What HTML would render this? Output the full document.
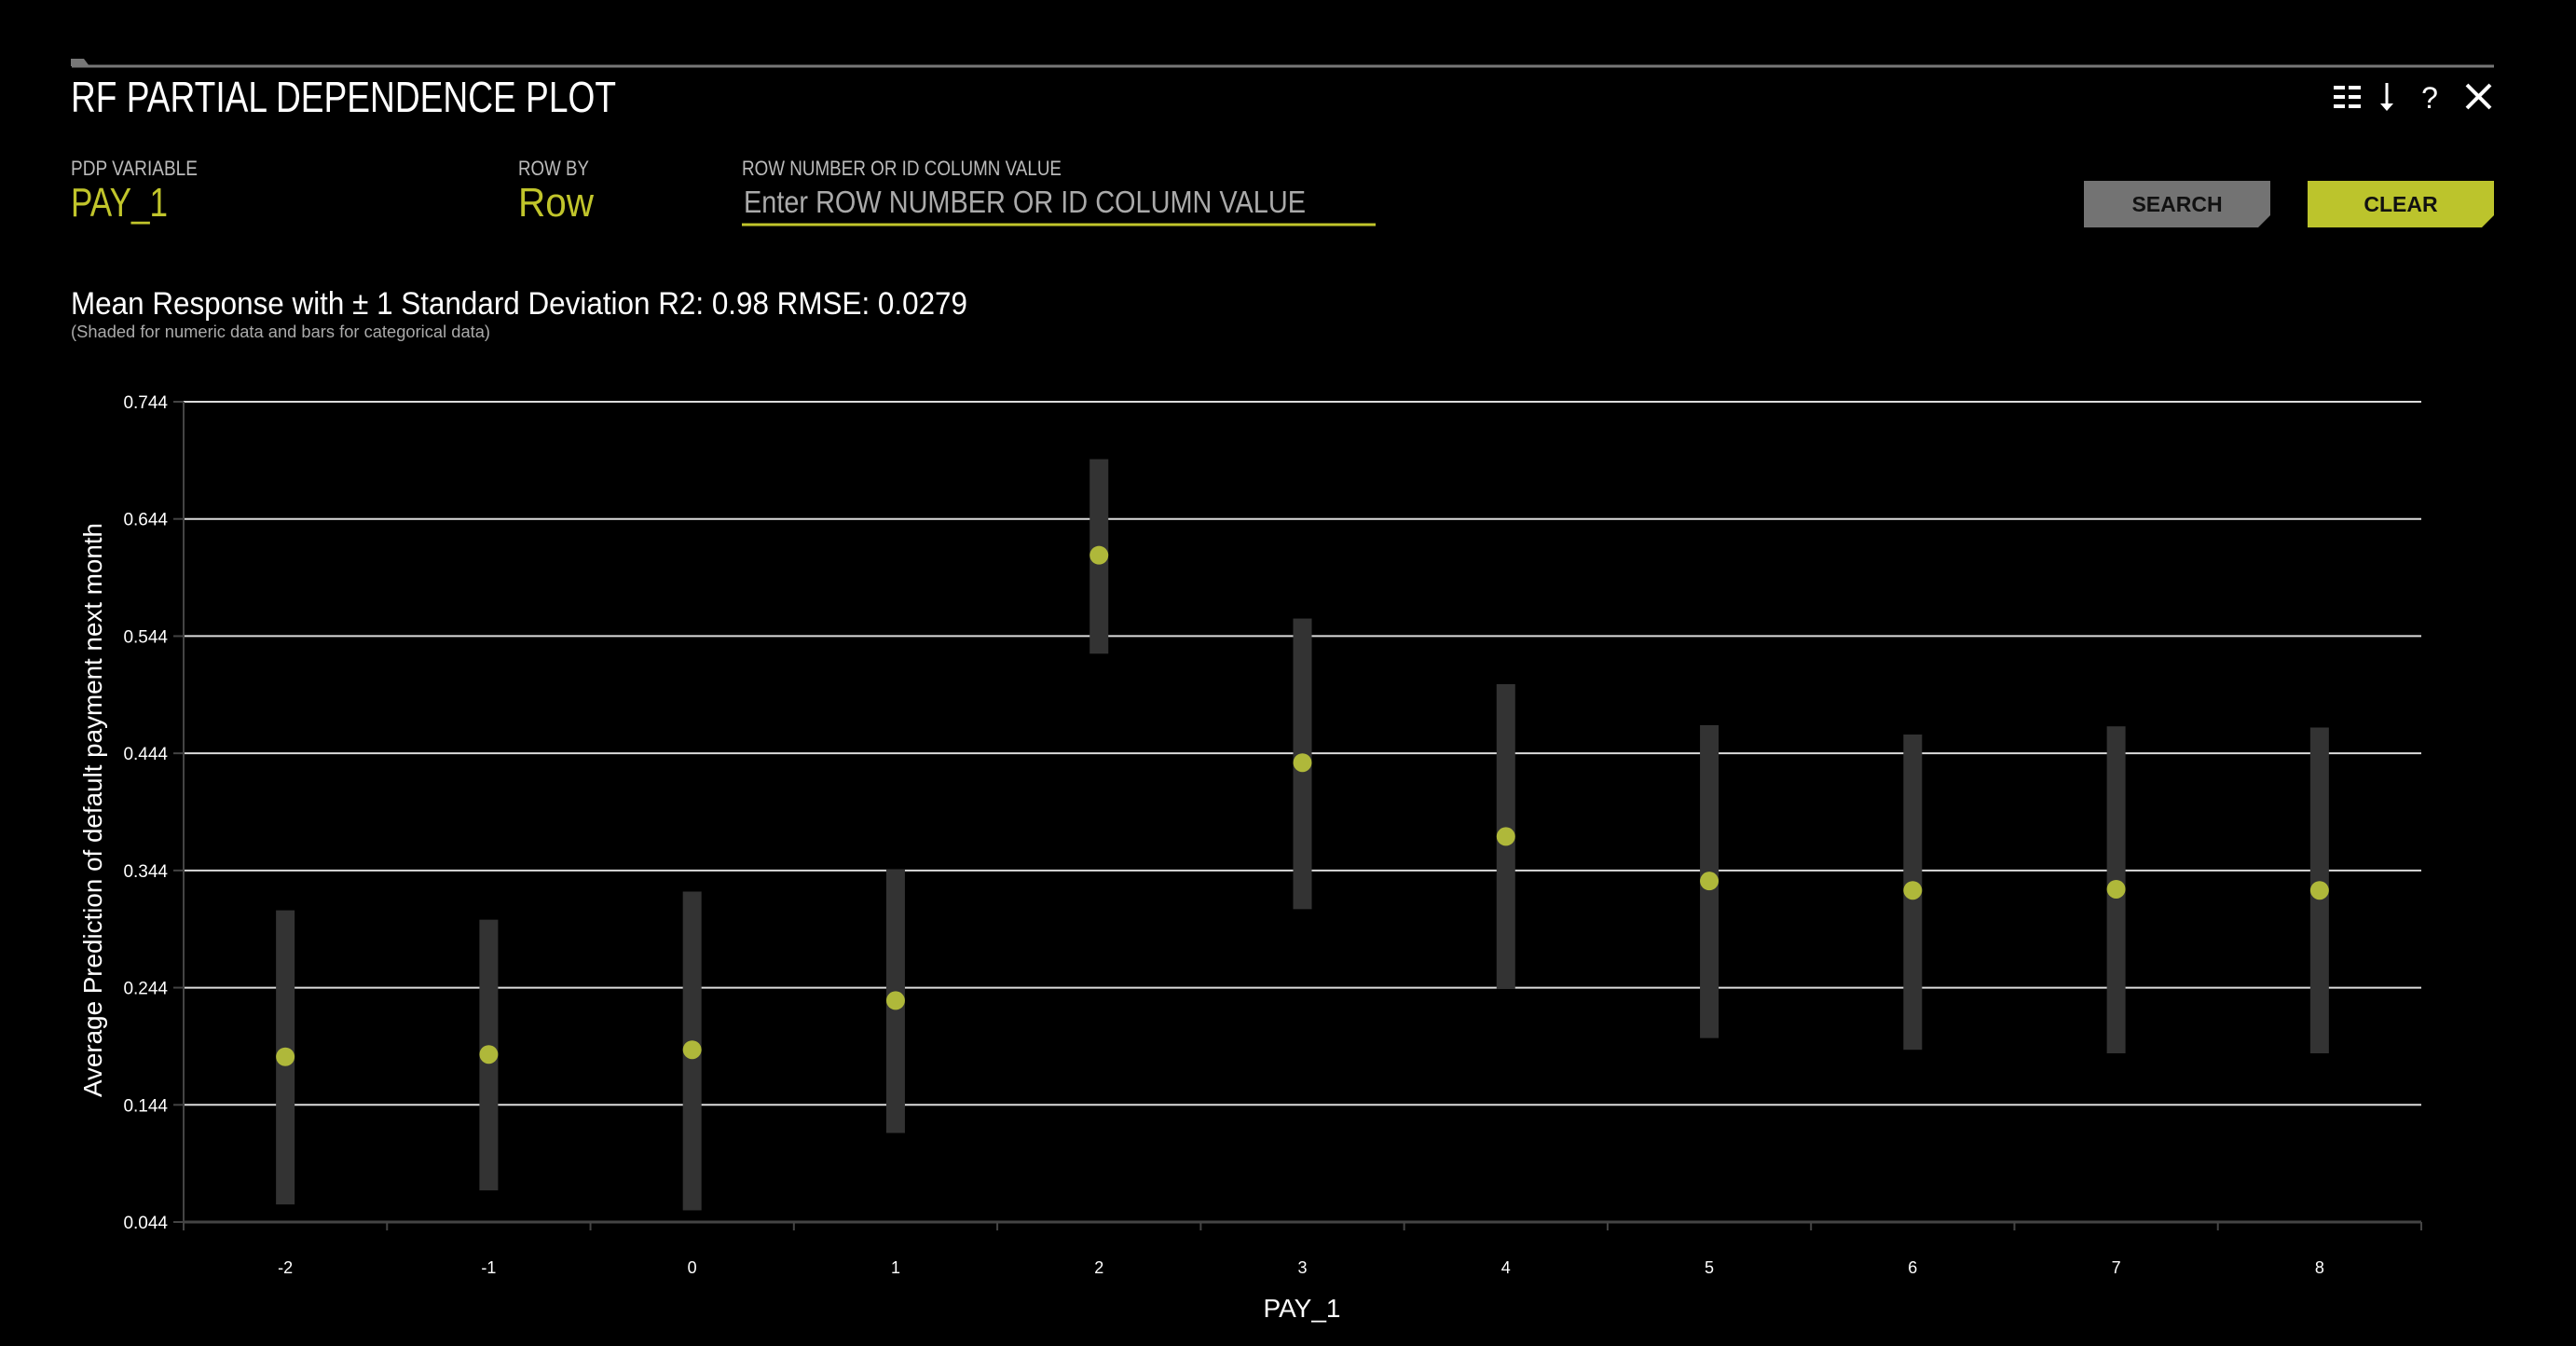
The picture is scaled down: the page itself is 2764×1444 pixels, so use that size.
<!DOCTYPE html>
<html><head><meta charset="utf-8"><style>
html,body{margin:0;padding:0;background:#000;width:2764px;height:1444px;overflow:hidden}
svg{display:block}
text{font-family:"Liberation Sans Narrow","Liberation Sans",sans-serif}
</style></head><body>
<svg id="root" width="2764" height="1444" viewBox="0 0 2764 1444">
<g>
<rect x="0" y="0" width="2764" height="1444" fill="#000"/>
<line x1="77" y1="71" x2="2676" y2="71" stroke="#777" stroke-width="3"/>
<polygon points="76,63 90,63 96,71 76,71" fill="#777"/>
<text x="76" y="120" font-size="46" fill="#fff" textLength="585" lengthAdjust="spacingAndGlyphs">RF PARTIAL DEPENDENCE PLOT</text>
<g fill="#fff">
<rect x="2504" y="92" width="12" height="4"/><rect x="2520" y="92" width="13" height="4"/>
<rect x="2504" y="102" width="12" height="4"/><rect x="2520" y="102" width="13" height="4"/>
<rect x="2504" y="112" width="12" height="4"/><rect x="2520" y="112" width="13" height="4"/>
</g>
<g>
<line x1="2561" y1="89" x2="2561" y2="114" stroke="#fff" stroke-width="3"/>
<polygon points="2554,111 2568,111 2561,119" fill="#fff"/>
</g>
<text x="2607" y="116" font-size="32" fill="#fff" text-anchor="middle">?</text>
<g stroke="#fff" stroke-width="4">
<line x1="2647" y1="91" x2="2672" y2="116"/><line x1="2672" y1="91" x2="2647" y2="116"/>
</g>
<text x="76" y="188" font-size="22" fill="#bbb" textLength="136" lengthAdjust="spacingAndGlyphs">PDP VARIABLE</text>
<text x="76" y="232" font-size="44" fill="#c1c52b" textLength="104" lengthAdjust="spacingAndGlyphs">PAY_1</text>
<text x="556" y="188" font-size="22" fill="#bbb" textLength="76" lengthAdjust="spacingAndGlyphs">ROW BY</text>
<text x="556" y="232" font-size="44" fill="#c1c52b" textLength="81" lengthAdjust="spacingAndGlyphs">Row</text>
<text x="796" y="188" font-size="22" fill="#bbb" textLength="343" lengthAdjust="spacingAndGlyphs">ROW NUMBER OR ID COLUMN VALUE</text>
<text x="798" y="228" font-size="33" fill="#aaa" textLength="603" lengthAdjust="spacingAndGlyphs">Enter ROW NUMBER OR ID COLUMN VALUE</text>
<line x1="796" y1="241" x2="1476" y2="241" stroke="#c1c52b" stroke-width="3"/>
<g>
<polygon points="2236,194 2436,194 2436,231 2423,244 2236,244" fill="#737373"/>
<text x="2336" y="227" font-size="23" font-weight="bold" fill="#111" text-anchor="middle">SEARCH</text>
</g>
<g>
<polygon points="2476,194 2676,194 2676,231 2663,244 2476,244" fill="#bcc42c"/>
<text x="2576" y="227" font-size="23" font-weight="bold" fill="#111" text-anchor="middle">CLEAR</text>
</g>
<text x="76" y="337" font-size="34" fill="#fff" textLength="962" lengthAdjust="spacingAndGlyphs">Mean Response with ± 1 Standard Deviation R2: 0.98 RMSE: 0.0279</text>
<text x="76" y="362" font-size="18" fill="#aaa" textLength="450" lengthAdjust="spacingAndGlyphs">(Shaded for numeric data and bars for categorical data)</text>
</g>
<g id="chart"></g>
</svg>
<script>
const categories = ["-2","-1","0","1","2","3","4","5","6","7","8"];
const meanValues = [0.185,0.187,0.191,0.233,0.613,0.436,0.373,0.335,0.327,0.328,0.327];
const upperValues = [0.310,0.302,0.326,0.345,0.695,0.559,0.503,0.468,0.460,0.467,0.466];
const lowerValues = [0.059,0.071,0.054,0.120,0.529,0.311,0.243,0.201,0.191,0.188,0.188];
const yTicks = [0.044,0.144,0.244,0.344,0.444,0.544,0.644,0.744];
const yTickLabels = ["0.044","0.144","0.244","0.344","0.444","0.544","0.644","0.744"];

const NS = "http://www.w3.org/2000/svg";
const L = 197, R = 2598, T = 431, B = 1311;
const yMin = 0.044, yMax = 0.744;
function yScale(v){ return B - (v - yMin) / (yMax - yMin) * (B - T); }
const band = (R - L) / categories.length;
function xScale(i){ return L + band * (i + 0.5); }
const g = document.getElementById('chart');
function mk(tag, attrs){ const e = document.createElementNS(NS, tag); for (const k in attrs) e.setAttribute(k, attrs[k]); g.appendChild(e); return e; }

yTicks.forEach((v, i) => {
  const y = yScale(v);
  if (i > 0) {
    const gl = mk('line', {x1: L, x2: R, y1: y, y2: y, stroke: '#dcdcdc', 'stroke-width': 2});
    
    
  }
  const tk = mk('line', {x1: 186, x2: L, y1: y, y2: y, stroke: '#444', 'stroke-width': 2});
  
  
  const t = mk('text', {x: 180, y: y + 7, 'font-size': 19, fill: '#fff', 'text-anchor': 'end'});
  t.textContent = yTickLabels[i];
  
  
});
const ya = mk('line', {x1: L, x2: L, y1: T, y2: B + 9, stroke: '#444', 'stroke-width': 2});


const xa = mk('line', {x1: L, x2: R, y1: B, y2: B, stroke: '#444', 'stroke-width': 3});


for (let i = 0; i <= categories.length; i++) {
  const x = L + band * i;
  const tk = mk('line', {x1: x, x2: x, y1: B, y2: B + 9, stroke: '#444', 'stroke-width': 2});
  
  
}
categories.forEach((c, i) => {
  const x = xScale(i);
  const bar = mk('rect', {x: x - 10, y: yScale(upperValues[i]), width: 20, height: yScale(lowerValues[i]) - yScale(upperValues[i]), fill: '#333'});
  
  
  const dot = mk('circle', {cx: x, cy: yScale(meanValues[i]), r: 10, fill: '#afb83a'});
  
  
  const t = mk('text', {x: x, y: 1366, 'font-size': 18, fill: '#fff', 'text-anchor': 'middle'});
  t.textContent = c;
  
  
});
const xt = mk('text', {x: 1397, y: 1413, 'font-size': 28, fill: '#fff', 'text-anchor': 'middle'});
xt.textContent = 'PAY_1';


const yt = mk('text', {x: 0, y: 0, 'font-size': 28, fill: '#fff', 'text-anchor': 'middle', transform: 'translate(109,869) rotate(-90)', textLength: 616, lengthAdjust: 'spacingAndGlyphs'});
yt.textContent = 'Average Prediction of default payment next month';


</script>
</body></html>
